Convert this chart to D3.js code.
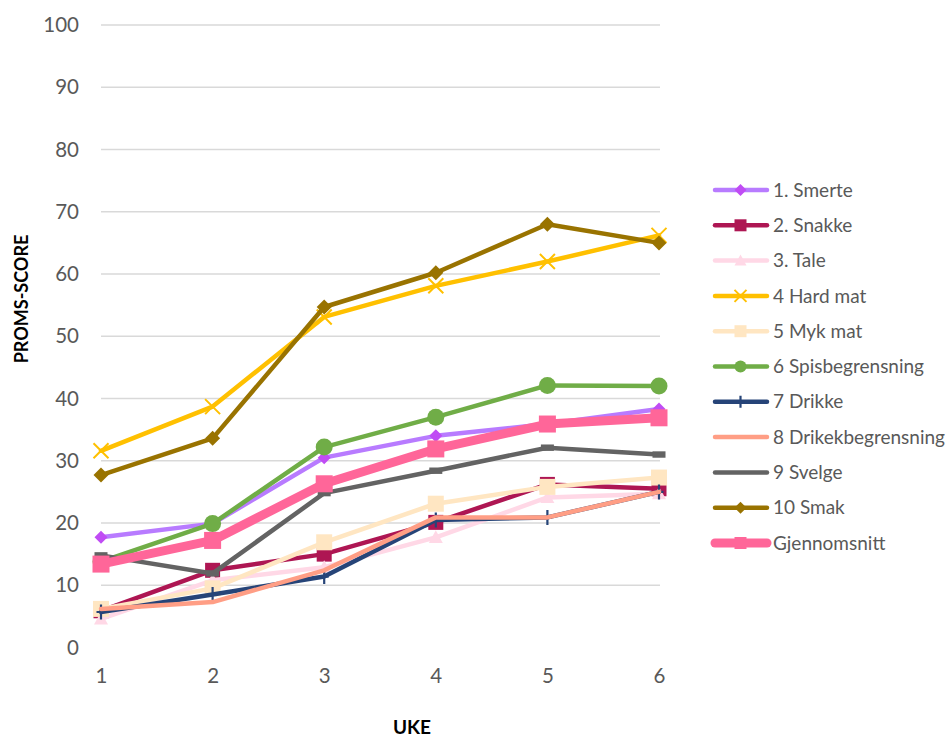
<!DOCTYPE html>
<html>
<head>
<meta charset="utf-8">
<script src="https://cdn.jsdelivr.net/npm/d3@7"></script>
<style>
  html, body { margin: 0; padding: 0; background: #fff; }
  svg { display: block; }
</style>
</head>
<body>
<svg id="chart" width="951" height="738"></svg>
<script>
const weeks = [1, 2, 3, 4, 5, 6];
const yTicks = [0, 10, 20, 30, 40, 50, 60, 70, 80, 90, 100];

const seriesNames = ["1. Smerte", "2. Snakke", "3. Tale", "4 Hard mat", "5 Myk mat",
  "6 Spisbegrensning", "7 Drikke", "8 Drikekbegrensning", "9 Svelge", "10 Smak", "Gjennomsnitt"];

const smerte = [17.7, 19.9, 30.5, 34.0, 35.9, 38.3];
const snakke = [5.9, 12.4, 15.0, 20.1, 26.2, 25.5];
const tale = [4.6, 10.8, 12.9, 17.7, 24.1, 24.7];
const hardMat = [31.6, 38.7, 53.1, 58.1, 62.0, 66.2];
const mykMat = [6.2, 9.5, 16.9, 23.1, 25.8, 27.3];
const spisbegrensning = [13.8, 19.9, 32.2, 37.0, 42.1, 42.0];
const drikke = [5.7, 8.5, 11.4, 20.5, 20.9, 25.0];
const drikekbegrensning = [6.2, 7.3, 12.4, 20.9, 20.9, 25.0];
const svelge = [14.8, 11.9, 24.8, 28.4, 32.1, 31.0];
const smak = [27.7, 33.6, 54.7, 60.2, 68.0, 65.0];
const gjennomsnitt = [13.4, 17.2, 26.3, 31.9, 35.9, 36.9];

const seriesValues = [smerte, snakke, tale, hardMat, mykMat, spisbegrensning,
  drikke, drikekbegrensning, svelge, smak, gjennomsnitt];

// styles (kept separate from data)
const styles = [
  { line: "#B87BFF", marker: "#C04CF4", shape: "diamond", size: 13, width: 4.5 },
  { line: "#AE1653", marker: "#AE1653", shape: "square", size: 15, width: 4.5 },
  { line: "#FFD8E6", marker: "#FFD8E6", shape: "triangle", size: 14, width: 4.5 },
  { line: "#FFC000", marker: "#FFC000", shape: "x", size: 15, width: 4.5 },
  { line: "#FFE6C2", marker: "#FFE6C2", shape: "square", size: 16, width: 4.5 },
  { line: "#70AD47", marker: "#70AD47", shape: "circle", size: 17, width: 4.5 },
  { line: "#264478", marker: "#264478", shape: "plus", size: 15, width: 4.5 },
  { line: "#FF9E85", marker: "#FF9E85", shape: "none", size: 0, width: 4.5 },
  { line: "#636363", marker: "#636363", shape: "dash", size: 13, width: 4.5 },
  { line: "#997300", marker: "#997300", shape: "diamond", size: 15, width: 4.5 },
  { line: "#FF6699", marker: "#FF6699", shape: "square", size: 17, width: 9 }
];

const svg = d3.select("#chart");
const font = "Lato, 'Open Sans', sans-serif";

const x = d3.scaleLinear().domain([1, 6]).range([101, 659]);
const y = d3.scaleLinear().domain([0, 100]).range([647.5, 25]);

// gridlines (no line at 0)
svg.append("g").selectAll("line")
  .data(yTicks.filter(d => d > 0))
  .join("line")
  .attr("x1", x(1)).attr("x2", x(6) + 1)
  .attr("y1", d => y(d)).attr("y2", d => y(d))
  .attr("stroke", "#D9D9D9").attr("stroke-width", 1.6);

// y axis via d3 axis
const yAxis = svg.append("g")
  .attr("transform", `translate(${x(1)},0)`)
  .call(d3.axisLeft(y).tickValues(yTicks).tickSize(0).tickPadding(22));
yAxis.select(".domain").remove();
yAxis.selectAll("text")
  .attr("font-family", font).attr("font-size", 20.5).attr("fill", "#595959");

// x axis
const xAxis = svg.append("g")
  .attr("transform", `translate(0,${y(0)})`)
  .call(d3.axisBottom(x).tickValues(weeks).tickSize(0).tickPadding(21).tickFormat(d3.format("d")));
xAxis.select(".domain").remove();
xAxis.selectAll("text")
  .attr("font-family", font).attr("font-size", 20.5).attr("fill", "#595959");

// axis titles
svg.append("text")
  .attr("transform", "translate(28,299) rotate(-90)")
  .attr("text-anchor", "middle")
  .attr("font-family", font).attr("font-weight", "bold").attr("font-size", 18)
  .attr("fill", "#000").text("PROMS-SCORE");

svg.append("text")
  .attr("x", 412).attr("y", 734)
  .attr("text-anchor", "middle")
  .attr("font-family", font).attr("font-weight", "bold").attr("font-size", 19)
  .attr("fill", "#000").text("UKE");

function drawMarker(g, st, cx, cy) {
  const s = st.size, h = s / 2;
  if (st.shape === "diamond") {
    g.append("path").attr("d", `M${cx},${cy - h}L${cx + h},${cy}L${cx},${cy + h}L${cx - h},${cy}Z`)
      .attr("fill", st.marker);
  } else if (st.shape === "square") {
    g.append("rect").attr("x", cx - h).attr("y", cy - h).attr("width", s).attr("height", s)
      .attr("fill", st.marker);
  } else if (st.shape === "triangle") {
    g.append("path").attr("d", `M${cx},${cy - h}L${cx + h},${cy + h * 0.8}L${cx - h},${cy + h * 0.8}Z`)
      .attr("fill", st.marker);
  } else if (st.shape === "circle") {
    g.append("circle").attr("cx", cx).attr("cy", cy).attr("r", h).attr("fill", st.marker);
  } else if (st.shape === "x") {
    g.append("path").attr("d", `M${cx - h},${cy - h}L${cx + h},${cy + h}M${cx + h},${cy - h}L${cx - h},${cy + h}`)
      .attr("stroke", st.marker).attr("stroke-width", 2);
  } else if (st.shape === "plus") {
    g.append("path").attr("d", `M${cx},${cy - h}L${cx},${cy + h}M${cx - h * 0.6},${cy}L${cx + h * 0.6},${cy}`)
      .attr("stroke", st.marker).attr("stroke-width", 2.2);
  } else if (st.shape === "dash") {
    g.append("rect").attr("x", cx - h).attr("y", cy - 3.2).attr("width", s).attr("height", 6.4)
      .attr("fill", st.marker);
  }
}

const line = d3.line().x((d, i) => x(weeks[i])).y(d => y(d));

// series
seriesValues.forEach((vals, si) => {
  const st = styles[si];
  const g = svg.append("g");
  g.append("path").attr("d", line(vals))
    .attr("fill", "none").attr("stroke", st.line).attr("stroke-width", st.width)
    .attr("stroke-linejoin", "round").attr("stroke-linecap", "round");
  vals.forEach((v, i) => drawMarker(g, st, x(weeks[i]), y(v)));
});

// legend
const legend = svg.append("g");
seriesNames.forEach((name, i) => {
  const st = styles[i];
  const cy = 190 + i * 35.3;
  const g = legend.append("g");
  g.append("line").attr("x1", 715).attr("x2", 767).attr("y1", cy).attr("y2", cy)
    .attr("stroke", st.line).attr("stroke-width", st.width).attr("stroke-linecap", "round");
  if (st.shape !== "dash") drawMarker(g, { ...st, size: Math.min(st.size, 12) }, 740.5, cy);
  g.append("text").attr("x", 773).attr("y", cy).attr("dy", "0.35em")
    .attr("font-family", font).attr("font-size", 19).attr("fill", "#595959")
    .text(name);
});
</script>
</body>
</html>
